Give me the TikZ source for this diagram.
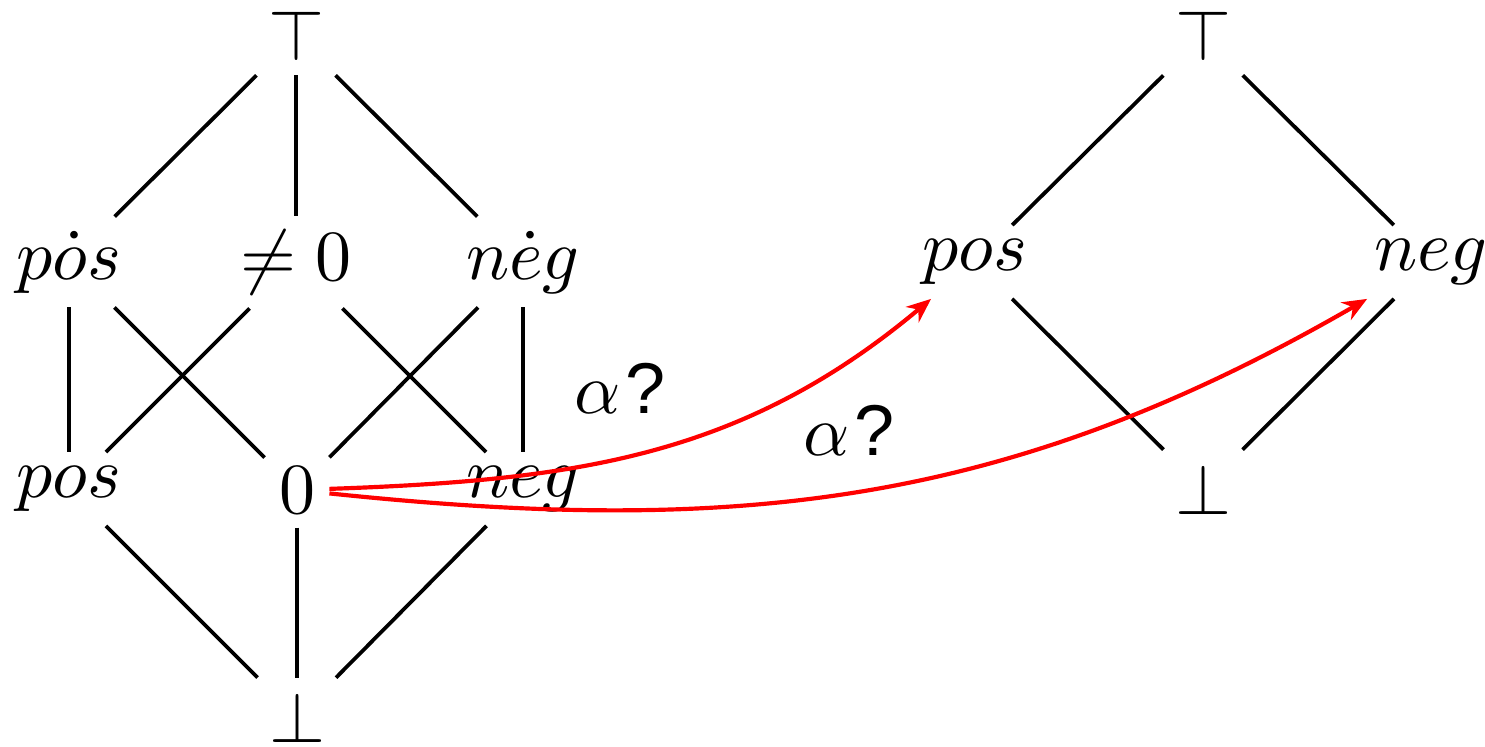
\documentclass[tikz,border=0pt]{standalone}
\usepackage{fontspec}
\newfontfamily\qfont{Liberation Sans}
\usetikzlibrary{arrows.meta}
\begin{document}
\begin{tikzpicture}[x=0.13889pt,y=0.13889pt,
  lat/.style={inner sep=1.8pt},
  edge/.style={line width=0.52pt},
  redarr/.style={red, line width=0.58pt, -{Stealth[length=3.4pt,width=2.8pt]}},
  lbl/.style={inner sep=0pt}]
\useasboundingbox (0,0) rectangle (1485,-746);
% left lattice
\node[lat] (Ltop) at (296,-36) {$\top$};
\node[lat] (Lpd) at (69,-262) {$p\dot{o}s$};
\node[lat] (Lne) at (296,-262) {$\neq 0$};
\node[lat] (Lnd) at (523,-262) {$n\dot{e}g$};
\node[lat] (Lp) at (69,-489) {$pos$};
\node[lat] (Lz) at (297,-490) {$0$};
\node[lat] (Ln) at (523,-489) {$neg$};
\node[lat] (Lbot) at (297,-717) {$\bot$};
% right lattice
\node[lat] (Rtop) at (1203,-36) {$\top$};
\node[lat] (Rp) at (975,-262) {$pos$};
\node[lat] (Rn) at (1431,-262) {$neg$};
\node[lat] (Rbot) at (1203,-489) {$\bot$};
\begin{scope}[edge]
\draw (Ltop) -- (Lpd);
\draw (Ltop) -- (Lne);
\draw (Ltop) -- (Lnd);
\draw (Lpd) -- (Lp);
\draw (Lpd) -- (Lz);
\draw (Lne) -- (Lp);
\draw (Lne) -- (Ln);
\draw (Lnd) -- (Lz);
\draw (Lnd) -- (Ln);
\draw (Lp) -- (Lbot);
\draw (Lz) -- (Lbot);
\draw (Ln) -- (Lbot);
\draw (Rtop) -- (Rp);
\draw (Rtop) -- (Rn);
\draw (Rp) -- (Rbot);
\draw (Rn) -- (Rbot);
\end{scope}
\draw[redarr] (Lz) to[out=2,in=220] (Rp);
\draw[redarr] (Lz) to[out=-6,in=210] (Rn);
\node[lbl] (a1) at (620,-388) {$\alpha$\kern0.6pt{\qfont ?}};
\node[lbl] (a2) at (849,-430) {$\alpha$\kern0.6pt{\qfont ?}};
\end{tikzpicture}
\end{document}
